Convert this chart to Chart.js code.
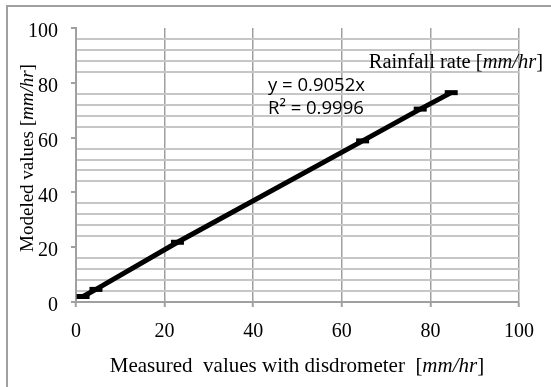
<!DOCTYPE html>
<html>
<head>
<meta charset="utf-8">
<script src="https://cdn.jsdelivr.net/npm/chart.js@4/dist/chart.umd.min.js"></script>
<style>
  html, body { margin: 0; padding: 0; background: #fff; }
  #wrap { width: 551px; height: 387px; }
</style>
</head>
<body>
<div id="wrap"><canvas id="rainChart" width="551" height="387"></canvas></div>
<script>
// disdrometer measurements vs modeled rainfall rate (mm/hr)
const measured = [1.6, 4.5, 22.9, 64.7, 77.7, 84.7];
const modeled = [2.0, 4.6, 21.8, 58.8, 70.4, 76.4];
const xTicks = [0, 20, 40, 60, 80, 100];
const yMajor = [0, 20, 40, 60, 80, 100];
const fitText = ['y = 0.9052x', 'R\u00b2 = 0.9996'];

const serif = '"Liberation Serif", "Times New Roman", serif';
const sans = '"Open Sans", "Liberation Sans", sans-serif';

// draw a line of text made of several font runs (normal + italic)
function drawRuns(ctx, runs, x, y, align) {
  let total = 0;
  runs.forEach(r => { ctx.font = r.font; total += ctx.measureText(r.text).width; });
  let cx = align === 'center' ? x - total / 2 : align === 'right' ? x - total : x;
  ctx.textAlign = 'left';
  runs.forEach(r => {
    ctx.font = r.font;
    ctx.fillText(r.text, cx, y);
    cx += ctx.measureText(r.text).width;
  });
}

function unitRuns(before, size) {
  return [
    { text: before + '[', font: size + 'px ' + serif },
    { text: 'mm/hr', font: 'italic ' + size + 'px ' + serif },
    { text: ']', font: size + 'px ' + serif }
  ];
}

const textPlugin = {
  id: 'textPlugin',
  beforeDraw(chart) {
    const ctx = chart.ctx;
    ctx.save();
    // outer frame, left and top edges
    ctx.strokeStyle = '#a0a0a0';
    ctx.lineWidth = 2;
    ctx.beginPath();
    ctx.moveTo(7, 387);
    ctx.lineTo(7, 6);
    ctx.lineTo(551, 6);
    ctx.stroke();
    ctx.restore();
  },
  afterDraw(chart) {
    const ctx = chart.ctx;
    ctx.save();
    ctx.fillStyle = '#000';
    ctx.textBaseline = 'middle';

    drawRuns(ctx, unitRuns('Rainfall rate ', 20.5), 543, 63, 'right');

    ctx.font = '18.5px ' + sans;
    ctx.fillText(fitText[0], 268, 86);
    ctx.fillText(fitText[1], 268, 109);

    drawRuns(ctx, unitRuns('Measured  values with disdrometer  ', 21), 297, 366, 'center');

    ctx.translate(28, 158);
    ctx.rotate(-Math.PI / 2);
    drawRuns(ctx, unitRuns('Modeled values ', 19), 0, 0, 'center');
    ctx.restore();
  }
};

new Chart(document.getElementById('rainChart'), {
  type: 'scatter',
  data: {
    datasets: [{
      data: measured.map((v, i) => ({ x: v, y: modeled[i] })),
      showLine: true,
      borderColor: '#000',
      borderWidth: 5,
      pointStyle: 'line',
      pointRadius: 6.5,
      pointBorderWidth: 5,
      pointBorderColor: '#000',
      pointBackgroundColor: '#000'
    }]
  },
  options: {
    responsive: false,
    devicePixelRatio: 1,
    animation: false,
    layout: { padding: { left: 0, right: 32, top: 28, bottom: 0 } },
    plugins: { legend: { display: false }, tooltip: { enabled: false } },
    scales: {
      x: {
        type: 'linear',
        min: 0, max: 100,
        afterFit: s => { s.height = 85; },
        afterBuildTicks: s => { s.ticks = xTicks.map(v => ({ value: v })); },
        grid: {
          color: c => c.tick && c.tick.value === 0 ? 'rgba(0,0,0,0)' : '#a0a0a0',
          lineWidth: 1.5,
          tickLength: 5,
          tickColor: '#a0a0a0',
          tickWidth: 2
        },
        border: { color: '#a0a0a0', width: 2 },
        ticks: {
          padding: 13,
          color: '#000',
          font: { family: serif, size: 20 }
        }
      },
      y: {
        type: 'linear',
        min: 0, max: 100,
        afterFit: s => { s.width = 76; },
        ticks: {
          stepSize: 4,
          autoSkip: false,
          padding: 13,
          labelOffset: 4,
          color: '#000',
          font: { family: serif, size: 20 },
          callback: v => yMajor.includes(v) ? v : ''
        },
        grid: {
          color: c => c.tick && c.tick.value % 20 === 0 ? 'rgba(0,0,0,0)' : '#c6c6c6',
          lineWidth: 2,
          tickLength: 5,
          tickColor: c => c.tick && c.tick.value % 20 === 0 ? '#a0a0a0' : 'rgba(0,0,0,0)',
          tickWidth: 2
        },
        border: { color: '#a0a0a0', width: 2 }
      }
    }
  },
  plugins: [textPlugin]
});
</script>
</body>
</html>
